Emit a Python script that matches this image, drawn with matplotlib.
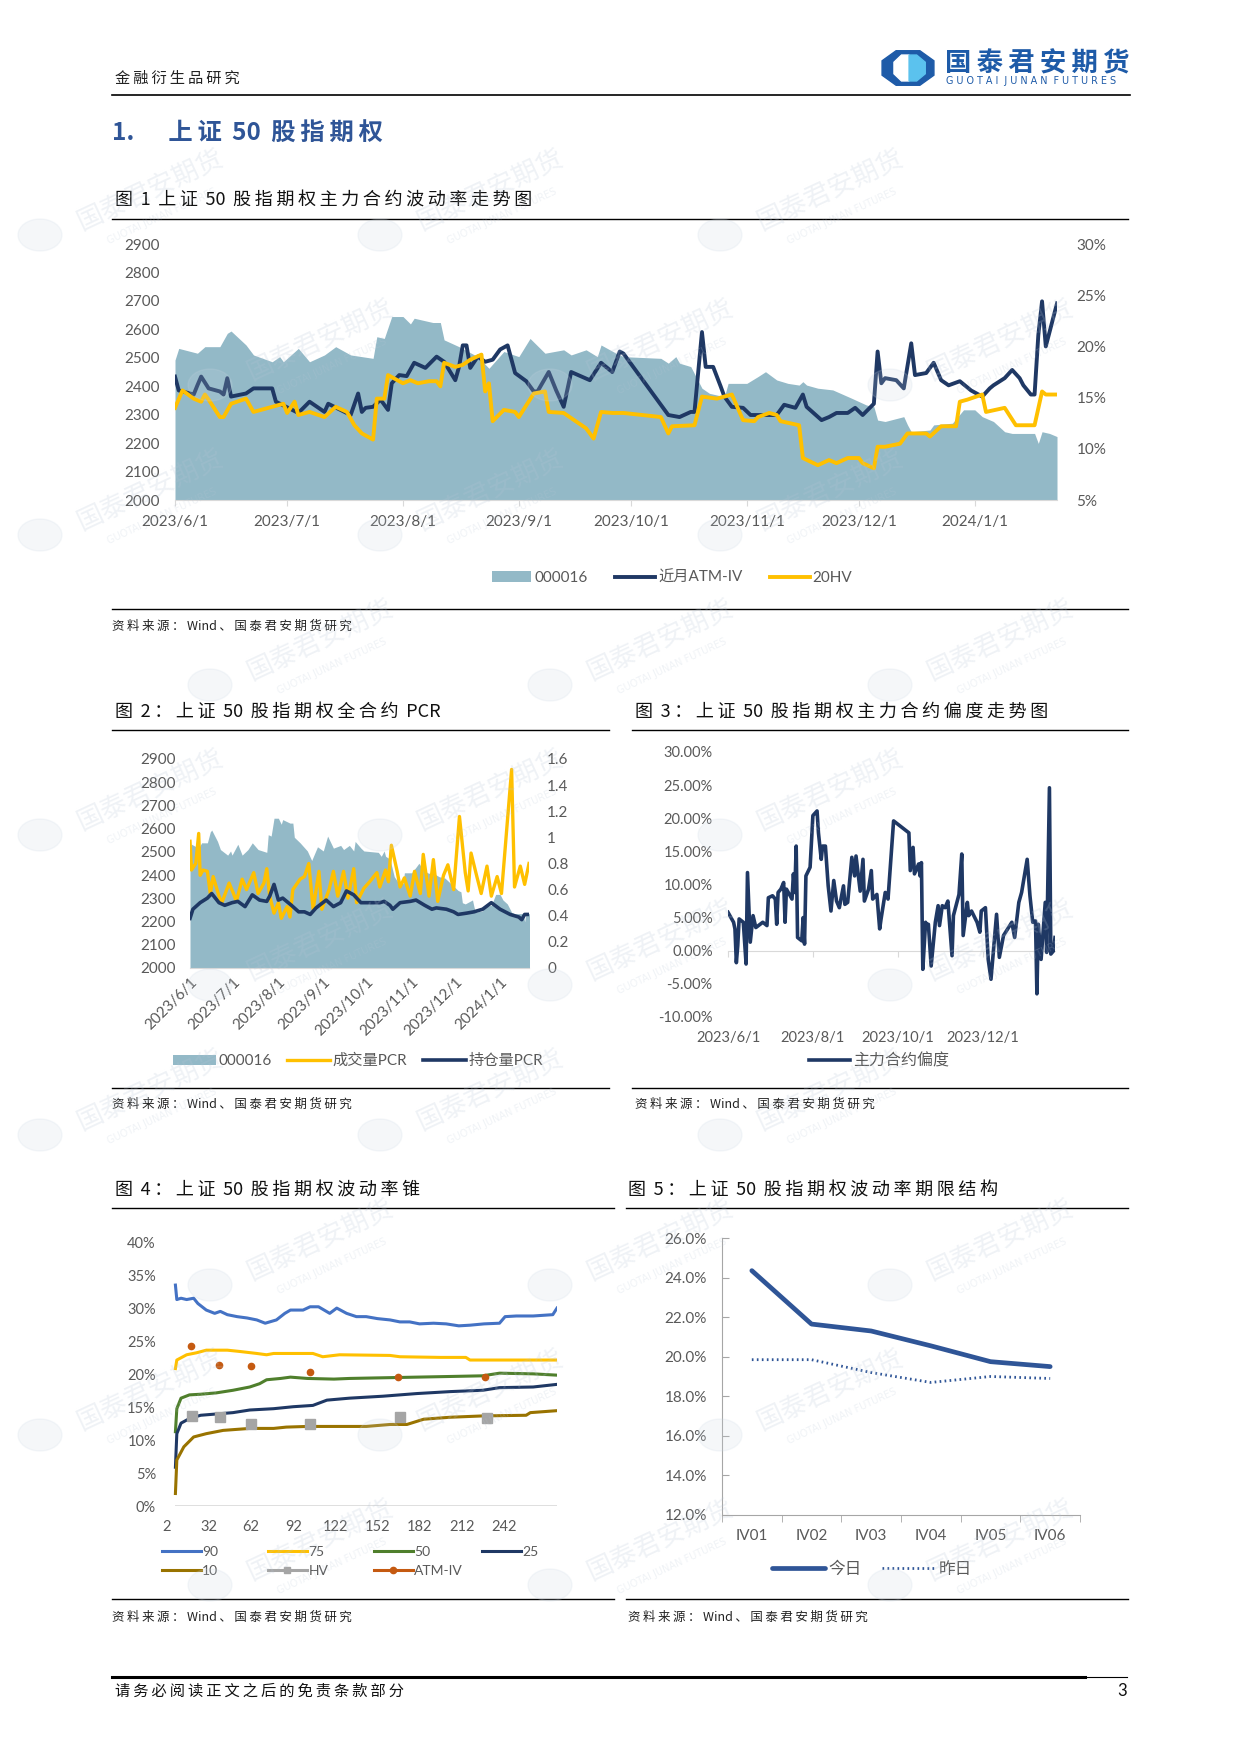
import numpy as np
import pandas as pd
import matplotlib
matplotlib.use('Agg')
import matplotlib.pyplot as plt
import matplotlib.ticker as mticker
from matplotlib.lines import Line2D
from matplotlib.patches import Polygon, Ellipse

plt.rcParams['font.family'] = ['Lato', 'Noto Sans CJK SC', 'DejaVu Sans']
plt.rcParams['axes.unicode_minus'] = False
CJK = ['Noto Sans CJK SC', 'DejaVu Sans']

W, H = 1240, 1754

# ---------------- data (days counted from 2023/6/1) ----------------
# fig 1 / fig 2 : SSE 50 index (000016)
idx_day = [0, 1, 6, 8, 12, 14, 15, 19, 21, 26, 28, 29, 33, 36, 40, 43, 47, 53, 54, 56,
           58, 61, 63, 64, 69, 71, 72, 76, 81, 84, 88, 92, 95, 99, 104, 106, 110, 113, 114, 118,
           120, 130, 132, 134, 135, 138, 141, 143, 147, 148, 153, 156, 158, 161, 164, 167, 168, 169, 172, 176,
           181, 185, 187, 188, 190, 195, 196, 197, 202, 203, 208, 211, 214, 216, 219, 222, 224, 230, 231, 232,
           234, 236]
idx_val = [2492, 2533, 2516, 2539, 2539, 2586, 2594, 2545, 2510, 2486, 2504, 2486, 2533, 2486, 2510, 2539, 2510, 2498, 2574, 2568,
           2645, 2645, 2619, 2639, 2624, 2624, 2563, 2539, 2504, 2463, 2522, 2504, 2568, 2516, 2528, 2510, 2528, 2504, 2545, 2516,
           2504, 2498, 2481, 2504, 2481, 2469, 2393, 2375, 2363, 2410, 2410, 2434, 2451, 2422, 2410, 2404, 2416, 2404, 2393, 2387,
           2358, 2334, 2328, 2281, 2276, 2293, 2264, 2240, 2246, 2264, 2270, 2317, 2317, 2293, 2276, 2240, 2234, 2234, 2199, 2240,
           2234, 2223]

# fig 1 : near-month ATM implied vol (%)
iv_day = [0, 1, 5, 6, 7, 9, 12, 13, 14, 15, 19, 21, 26, 27, 33, 36, 40, 41, 47, 49,
          50, 51, 53, 55, 57, 58, 60, 62, 64, 67, 70, 72, 75, 76, 77, 78, 79, 81, 83, 85,
          87, 89, 91, 94, 96, 97, 100, 102, 104, 106, 111, 114, 117, 119, 120, 132, 135, 138, 139, 141,
          142, 144, 146, 147, 149, 152, 154, 157, 161, 163, 166, 168, 169, 173, 175, 177, 180, 182, 184, 187,
          188, 189, 190, 193, 195, 197, 198, 201, 203, 205, 207, 210, 213, 216, 218, 219, 222, 224, 226, 227,
          229, 230, 231, 232, 233, 236]
iv_val = [17.05, 15.7, 15.3, 16.2, 17.05, 15.9, 15.6, 15.3, 16.9, 15.1, 15.4, 15.9, 15.9, 14.6, 13.5, 14.6, 13.6, 14.4, 13.3, 15.4,
          13.6, 14.0, 14.1, 14.8, 13.8, 16.4, 17.2, 17.1, 18.4, 17.9, 19.0, 18.5, 16.7, 18.0, 20.1, 20.1, 17.9, 19.0, 18.5, 18.7,
          19.7, 20.1, 17.4, 16.6, 15.6, 15.6, 17.5, 15.7, 14.1, 17.5, 16.7, 18.4, 17.5, 19.5, 19.3, 13.3, 13.1, 13.6, 13.6, 21.4,
          18.0, 18.0, 16.1, 15.1, 14.1, 14.0, 13.3, 13.3, 13.3, 14.3, 14.0, 15.3, 14.1, 12.8, 13.1, 13.5, 13.5, 14.0, 13.3, 14.4,
          19.5, 16.4, 16.9, 16.7, 15.9, 20.3, 17.2, 17.4, 18.4, 16.7, 16.2, 16.6, 15.7, 15.1, 15.9, 16.2, 16.9, 17.7, 16.9, 16.2,
          15.3, 15.3, 21.1, 24.4, 20.0, 24.2]

# fig 1 : 20-day historical vol (%)
hv_day = [0, 2, 5, 7, 8, 9, 12, 13, 15, 19, 21, 26, 29, 30, 32, 33, 36, 40, 43, 46,
          48, 50, 53, 54, 56, 57, 61, 63, 65, 68, 70, 71, 72, 75, 77, 79, 82, 83, 84, 85,
          88, 91, 92, 96, 99, 100, 104, 110, 112, 114, 117, 120, 130, 132, 133, 139, 141, 145, 149, 152,
          155, 156, 159, 161, 162, 167, 168, 172, 175, 177, 180, 183, 184, 187, 188, 190, 194, 196, 201, 202,
          205, 209, 210, 212, 216, 217, 222, 225, 230, 232, 233, 236]
hv_val = [14.0, 15.7, 14.9, 14.6, 15.3, 14.8, 13.1, 13.1, 14.4, 14.9, 13.6, 14.1, 14.4, 13.5, 14.6, 13.3, 13.6, 13.1, 14.1, 13.6,
          12.3, 11.5, 10.9, 14.9, 14.9, 17.2, 16.4, 16.7, 16.4, 16.6, 16.6, 16.1, 18.4, 18.0, 18.2, 18.7, 19.2, 15.6, 16.4, 12.7,
          13.8, 13.6, 13.1, 15.4, 15.6, 13.6, 13.5, 12.0, 11.0, 13.6, 13.5, 13.5, 13.1, 11.5, 12.2, 12.3, 15.1, 14.9, 15.3, 12.8,
          12.7, 13.1, 13.5, 13.3, 12.7, 12.3, 9.1, 8.4, 8.9, 8.6, 9.1, 9.1, 8.6, 8.1, 10.2, 10.2, 10.5, 11.5, 11.5, 11.2,
          12.2, 12.2, 14.6, 14.8, 15.3, 13.6, 14.0, 12.3, 12.3, 15.6, 15.3, 15.3]

# fig 2 : PCR
vol_pcr_day = [0, 1, 4, 6, 7, 9, 12, 14, 16, 20, 22, 27, 30, 32, 36, 39, 44, 47, 51, 53,
               55, 58, 61, 63, 67, 69, 71, 76, 79, 82, 85, 89, 91, 96, 99, 102, 106, 109, 113, 115,
               120, 124, 129, 131, 135, 137, 139, 143, 145, 148, 152, 155, 159, 161, 165, 168, 171, 175, 178, 182,
               186, 190, 192, 194, 198, 201, 205, 208, 212, 215, 222, 224, 228, 231, 234]
vol_pcr = [0.97, 0.75, 0.80, 1.03, 0.71, 0.75, 0.74, 0.57, 0.70, 0.55, 0.50, 0.65, 0.57, 0.51, 0.68, 0.60, 0.73, 0.57, 0.65, 0.76,
           0.55, 0.42, 0.50, 0.38, 0.47, 0.39, 0.60, 0.68, 0.70, 0.80, 0.45, 0.74, 0.45, 0.60, 0.74, 0.55, 0.74, 0.535, 0.76, 0.50,
           0.61, 0.66, 0.73, 0.62, 0.75, 0.66, 0.94, 0.74, 0.62, 0.69, 0.55, 0.74, 0.57, 0.87, 0.55, 0.83, 0.51, 0.71, 0.79, 0.60,
           1.16, 0.73, 0.59, 0.88, 0.70, 0.57, 0.78, 0.55, 0.70, 0.57, 1.52, 0.62, 0.78, 0.64, 0.80]
oi_pcr_day = [0, 2, 7, 12, 15, 20, 24, 29, 33, 38, 43, 48, 53, 55, 58, 61, 64, 70, 75, 79,
              83, 87, 94, 99, 104, 108, 113, 118, 124, 131, 134, 138, 140, 145, 152, 156, 162, 167, 170, 177,
              182, 185, 191, 196, 202, 208, 214, 221, 227, 229, 231, 234]
oi_pcr = [0.38, 0.45, 0.50, 0.535, 0.57, 0.50, 0.48, 0.50, 0.51, 0.47, 0.56, 0.52, 0.51, 0.55, 0.64, 0.52, 0.535, 0.48, 0.43, 0.43,
          0.41, 0.46, 0.52, 0.47, 0.50, 0.59, 0.56, 0.50, 0.50, 0.50, 0.51, 0.48, 0.45, 0.50, 0.51, 0.52, 0.48, 0.45, 0.46, 0.45,
          0.43, 0.41, 0.42, 0.43, 0.45, 0.50, 0.45, 0.41, 0.39, 0.37, 0.41, 0.41]

# fig 3 : main contract skew (%)
skew_day = [0, 4, 5, 6, 7, 8, 11, 13, 14, 16, 18, 20, 25, 28, 29, 32, 34, 35, 36, 38,
            40, 41, 42, 46, 47, 48, 49, 50, 53, 54, 55, 56, 59, 61, 64, 65, 67, 68, 70, 72,
            74, 76, 78, 80, 83, 84, 86, 89, 91, 92, 95, 97, 98, 101, 103, 104, 107, 109, 110, 113,
            115, 119, 130, 131, 133, 134, 137, 138, 139, 140, 142, 143, 144, 146, 149, 151, 152, 154, 156, 158,
            161, 162, 166, 168, 169, 172, 173, 175, 179, 181, 182, 185, 187, 189, 193, 195, 198, 201, 204, 206,
            209, 211, 215, 217, 219, 221, 222, 223, 225, 228, 229, 231, 232, 234, 235]
skew_val = [5.8, 4.3, 3.3, -1.8, 0.75, 4.8, 4.3, -2.0, 11.8, 1.3, 5.3, 3.5, 4.3, 3.8, 8.0, 8.3, 7.8, 4.0, 8.8, 9.3,
            10.3, 4.3, 9.3, 7.8, 11.6, 8.8, 15.8, 2.0, 1.5, 5.0, 1.0, 11.3, 12.6, 20.4, 21.1, 17.8, 13.8, 15.8, 15.8, 9.8,
            6.0, 10.6, 7.5, 6.5, 9.8, 7.0, 7.3, 14.1, 11.3, 14.3, 9.0, 13.8, 7.5, 9.3, 12.1, 7.8, 8.5, 3.3, 4.8, 8.8,
            7.8, 19.6, 17.8, 12.1, 15.6, 11.6, 13.1, 11.3, 13.3, -2.8, 4.3, 3.5, 4.0, -2.3, 4.3, 6.8, 3.8, 6.8, 6.5, 7.5,
            -0.75, 5.3, 8.5, 14.6, 2.3, 7.3, 5.3, 6.0, 4.3, 2.8, 6.0, 6.5, -1.3, -4.3, 5.5, -1.0, 2.3, 3.3, 4.3, 2.0,
            7.3, 8.8, 13.8, 8.3, 4.3, 4.5, -6.5, 4.0, -1.3, 7.3, -0.25, 24.6, -0.5, 0.0, 2.0]

# fig 4 : volatility cone (days to expiry -> percentile vol, %)
p90_x = [8, 9, 12, 16, 21, 24, 30, 36, 40, 45, 52, 59, 66, 72, 80, 86, 90, 99, 104, 110,
         118, 123, 130, 137, 144, 152, 161, 168, 175, 182, 192, 201, 210, 218, 228, 239, 243, 251, 263, 277, 280]
p90 = [33.6, 31.4, 31.6, 31.4, 31.6, 30.8, 29.8, 29.3, 29.6, 29.1, 28.8, 28.6, 28.3, 27.8, 28.3, 29.3, 29.8, 29.8, 30.3, 30.3,
       29.3, 30.1, 29.3, 28.8, 28.8, 28.5, 28.3, 28.0, 28.0, 27.7, 27.8, 27.7, 27.4, 27.5, 27.7, 27.8, 28.8, 28.9, 28.9, 29.1, 30.1]
p75_x = [8, 9, 16, 23, 30, 45, 54, 66, 73, 78, 106, 113, 125, 161, 168, 197, 215, 218, 280]
p75 = [20.9, 22.2, 23.0, 23.3, 23.7, 23.7, 23.5, 23.2, 23.0, 23.2, 23.2, 22.7, 23.0, 22.9, 22.7, 22.6, 22.6, 22.2, 22.2]
p50_x = [8, 9, 12, 18, 26, 37, 49, 61, 68, 73, 83, 90, 102, 121, 132, 156, 204, 227, 239, 263, 280]
p50 = [11.3, 14.8, 16.4, 16.9, 17.0, 17.2, 17.6, 18.1, 18.6, 19.2, 19.4, 19.6, 19.4, 19.3, 19.4, 19.5, 19.7, 19.8, 20.2, 20.1, 19.9]
p25_x = [8, 9, 12, 18, 26, 49, 61, 78, 92, 106, 116, 132, 156, 180, 204, 227, 239, 263, 280]
p25 = [5.9, 11.0, 12.6, 13.3, 13.8, 14.2, 14.6, 14.8, 15.1, 15.3, 16.1, 16.4, 16.7, 17.1, 17.4, 17.6, 18.0, 18.1, 18.5]
p10_x = [8, 9, 14, 21, 30, 42, 61, 78, 87, 102, 144, 161, 173, 185, 204, 227, 258, 261, 280]
p10 = [1.9, 7.0, 9.0, 10.5, 11.0, 11.5, 11.8, 11.8, 12.0, 12.1, 12.1, 12.4, 12.4, 13.2, 13.5, 13.7, 13.8, 14.2, 14.5]
hv_pt_x = [20, 40, 62, 104, 168, 230]
hv_pt = [13.7, 13.6, 12.4, 12.4, 13.6, 13.4]
atm_pt_x = [19, 39, 62, 104, 167, 229]
atm_pt = [24.4, 21.5, 21.3, 20.4, 19.6, 19.6]
cone_ticks = [2, 32, 62, 92, 122, 152, 182, 212, 242]

# fig 5 : term structure
term_labels = ['IV01', 'IV02', 'IV03', 'IV04', 'IV05', 'IV06']
term_today = [24.35, 21.65, 21.3, 20.55, 19.75, 19.5]
term_yday = [19.85, 19.85, 19.2, 18.7, 19.0, 18.9]

# ---------------- style ----------------
FILL = '#93B9C7'
NAVY = '#1F3864'
GOLD = '#FFC000'
AXC = '#D9D9D9'
TXT = '#595959'

START = pd.Timestamp('2023-06-01')
months = pd.date_range('2023-06-01', '2024-01-01', freq='MS')
month_days = list((months - START).days)
month_labels = [f'{d.year}/{d.month}/{d.day}' for d in months]


def box(l, t, r, b):
    return [l / W, 1 - b / H, (r - l) / W, (b - t) / H]


def spaced(s, sp='\u2009'):
    # song-style page text is letter-spaced around the CJK glyphs
    out = s[0]
    for a, b in zip(s, s[1:]):
        if ord(a) > 127 or ord(b) > 127:
            out += sp
        out += b
    return out


def ftext(x, y, s, **kw):
    kw.setdefault('va', 'center')
    return fig.text(x / W, 1 - y / H, s, **kw)


def hline(x0, x1, y, lw=1.0, color='black'):
    fig.add_artist(Line2D([x0 / W, x1 / W], [1 - y / H, 1 - y / H], color=color, lw=lw))


def clean(ax, keep=()):
    for k, s in ax.spines.items():
        s.set_visible(k in keep)


def title(x, y, s):
    ftext(x, y, spaced(s), family=CJK, fontsize=13, color='#111111')


def source(x, y):
    ftext(x, y, spaced('资料来源：Wind、国泰君安期货研究'), family=CJK, fontsize=9, color='#222222')


fig = plt.figure(figsize=(W / 100, H / 100), dpi=100)

# ---------------- faint watermark ----------------
for r, wy in enumerate(range(190, 1640, 150)):
    for wx in range(150 + (r % 2) * 170, 1120, 340):
        ftext(wx, wy, '国泰君安期货', family=CJK, fontsize=19, rotation=25, color='#B8C6D6',
              alpha=0.22, ha='center', zorder=50)
        ftext(wx + 12, wy + 26, 'GUOTAI JUNAN FUTURES', family=['DejaVu Sans'], fontsize=7, rotation=25,
              color='#B8C6D6', alpha=0.22, ha='center', zorder=50)
        fig.add_artist(Ellipse(((wx - 110) / W, 1 - (wy + 45) / H), 44 / W, 32 / H, color='#C9D6E3',
                               alpha=0.18, zorder=50))

# ---------------- page header ----------------
ftext(115, 78, spaced('金融衍生品研究'), family=CJK, fontsize=11, color='#222222')
hline(112, 1130, 95, lw=1.2)
lax = fig.add_axes(box(881, 50, 935, 86))
lax.set_xlim(0, 1)
lax.set_ylim(0, 1)
lax.axis('off')
lax.add_patch(Polygon([(0.28, 0.02), (0.72, 0.02), (0.98, 0.3), (0.98, 0.7), (0.72, 0.98), (0.28, 0.98),
                       (0.02, 0.7), (0.02, 0.3)], closed=True, color='#1E5BA8'))
lax.add_patch(Polygon([(0.38, 0.14), (0.52, 0.14), (0.52, 0.86), (0.38, 0.86), (0.24, 0.66), (0.24, 0.34)],
                      closed=True, color='white'))
lax.add_patch(Polygon([(0.52, 0.14), (0.66, 0.14), (0.82, 0.34), (0.82, 0.66), (0.66, 0.86), (0.52, 0.86)],
                      closed=True, color='#5BC2EE'))
ftext(945, 64, spaced('国泰君安期货'), family=CJK, fontsize=19, fontweight='bold', color='#1E5BA8')
ftext(946, 81, ' '.join('GUOTAI JUNAN FUTURES').replace('   ', '  '), family=['DejaVu Sans'],
      fontsize=6.9, color='#1E5BA8')

ftext(112, 134, spaced('1.\u2003上证 50 股指期权'), family=CJK, fontsize=17.5,
      fontweight='bold', color='#2F5597')

# ---------------- fig 1 ----------------
title(115, 201, '图 1 上证 50 股指期权主力合约波动率走势图')
hline(112, 1128, 219)

ax1 = fig.add_axes(box(175, 244, 1057, 500))
fill1 = ax1.fill_between(idx_day, idx_val, 2000, color=FILL, lw=0, label='000016')
ax1.set_xlim(0, 236)
ax1.set_ylim(2000, 2900)
ax1.set_yticks(range(2000, 3000, 100))
ax1.set_xticks(month_days)
ax1.set_xticklabels(month_labels)
clean(ax1, keep=('bottom',))
ax1.spines['bottom'].set_color(AXC)
ax1.tick_params(axis='y', length=0, pad=11, labelsize=11, labelcolor=TXT)
ax1.tick_params(axis='x', length=4, color=AXC, pad=7, labelsize=11, labelcolor=TXT)
ax1r = ax1.twinx()
l_iv, = ax1r.plot(iv_day, iv_val, color=NAVY, lw=2.8, label='近月ATM-IV')
l_hv, = ax1r.plot(hv_day, hv_val, color=GOLD, lw=2.8, label='20HV')
ax1r.set_ylim(5, 30)
ax1r.set_yticks(range(5, 35, 5))
ax1r.yaxis.set_major_formatter(mticker.FormatStrFormatter('%d%%'))
clean(ax1r)
ax1r.tick_params(axis='y', length=0, pad=14, labelsize=11, labelcolor=TXT)
fig.legend(handles=[fill1, l_iv, l_hv], loc='center', bbox_to_anchor=(672 / W, 1 - 578 / H),
           ncol=3, frameon=False, fontsize=11, handlelength=2.6, handletextpad=0.2,
           columnspacing=1.8, labelcolor=TXT)
hline(112, 1128, 609)
source(112, 626)

# ---------------- fig 2 ----------------
title(115, 712, '图 2：上证 50 股指期权全合约 PCR')
hline(112, 609, 730)
ax2 = fig.add_axes(box(190, 759, 529, 968))
fill2 = ax2.fill_between(idx_day, idx_val, 2000, color=FILL, lw=0, label='000016')
ax2.set_xlim(0, 234)
ax2.set_ylim(2000, 2900)
ax2.set_yticks(range(2000, 3000, 100))
ax2.set_xticks(month_days)
ax2.set_xticklabels(month_labels, rotation=45, ha='right', rotation_mode='anchor')
clean(ax2, keep=('bottom',))
ax2.spines['bottom'].set_color(AXC)
ax2.tick_params(axis='y', length=0, pad=10, labelsize=11, labelcolor=TXT)
ax2.tick_params(axis='x', length=0, pad=5, labelsize=11, labelcolor=TXT)
ax2r = ax2.twinx()
l_vp, = ax2r.plot(vol_pcr_day, vol_pcr, color=GOLD, lw=2.4, label='成交量PCR')
l_op, = ax2r.plot(oi_pcr_day, oi_pcr, color=NAVY, lw=2.6, label='持仓量PCR')
ax2r.set_ylim(0, 1.6)
ax2r.set_yticks(np.arange(0, 1.61, 0.2))
ax2r.yaxis.set_major_formatter(mticker.FuncFormatter(lambda v, p: f'{v:g}'))
clean(ax2r)
ax2r.tick_params(axis='y', length=0, pad=13, labelsize=11, labelcolor=TXT)
fig.legend(handles=[fill2, l_vp, l_op], loc='center', bbox_to_anchor=(358 / W, 1 - 1061 / H),
           ncol=3, frameon=False, fontsize=11, handlelength=2.8, handletextpad=0.2,
           columnspacing=1.0, labelcolor=TXT)
hline(112, 609, 1088)
source(112, 1104)

# ---------------- fig 3 ----------------
title(635, 712, '图 3：上证 50 股指期权主力合约偏度走势图')
hline(632, 1128, 730)
ax3 = fig.add_axes(box(728, 752, 1055, 1017))
l_sk, = ax3.plot(skew_day, skew_val, color=NAVY, lw=2.6, label='主力合约偏度')
ax3.set_xlim(0, 235)
ax3.set_ylim(-10, 30)
ax3.set_yticks(range(-10, 35, 5))
ax3.yaxis.set_major_formatter(mticker.FormatStrFormatter('%.2f%%'))
ax3.set_xticks(month_days[0:7:2])
ax3.set_xticklabels(month_labels[0:7:2])
clean(ax3, keep=('bottom',))
ax3.spines['bottom'].set_position(('data', 0))
ax3.spines['bottom'].set_color(AXC)
ax3.spines['bottom'].set_zorder(0)
ax3.tick_params(axis='y', length=0, pad=11, labelsize=10.5, labelcolor=TXT)
ax3.tick_params(axis='x', length=4, color=AXC, pad=54, labelsize=10.5, labelcolor=TXT)
fig.legend(handles=[l_sk], loc='center', bbox_to_anchor=(879 / W, 1 - 1061 / H),
           frameon=False, fontsize=11.5, handlelength=2.6, handletextpad=0.2, labelcolor=TXT)
hline(632, 1128, 1088)
source(635, 1104)

# ---------------- fig 4 ----------------
title(115, 1191, '图 4：上证 50 股指期权波动率锥')
hline(112, 614, 1208)
ax4 = fig.add_axes(box(167, 1243, 557, 1506))
c90, = ax4.plot(p90_x, p90, color='#4472C4', lw=2.2, label='90')
c75, = ax4.plot(p75_x, p75, color=GOLD, lw=2.2, label='75')
c50, = ax4.plot(p50_x, p50, color='#4F7F2C', lw=2.2, label='50')
c25, = ax4.plot(p25_x, p25, color=NAVY, lw=2.2, label='25')
c10, = ax4.plot(p10_x, p10, color='#997300', lw=2.2, label='10')
ax4.plot(hv_pt_x, hv_pt, ls='none', marker='s', ms=6.5, color='#A5A5A5')
ax4.plot(atm_pt_x, atm_pt, ls='none', marker='o', ms=4.5, color='#C55A11')
ax4.hlines(0, p90_x[0], p90_x[-1], color=AXC, lw=1.2, zorder=0)
ax4.set_xlim(2, 280)
ax4.set_ylim(0, 40)
ax4.set_yticks(range(0, 45, 5))
ax4.yaxis.set_major_formatter(mticker.FormatStrFormatter('%d%%'))
ax4.set_xticks(cone_ticks)
clean(ax4)
ax4.tick_params(axis='y', length=0, pad=8, labelsize=10.5, labelcolor=TXT)
ax4.tick_params(axis='x', length=0, pad=10, labelsize=10.5, labelcolor=TXT)
h_hv = Line2D([], [], color='#A5A5A5', lw=2.2, marker='s', ms=5)
h_atm = Line2D([], [], color='#C55A11', lw=2.2, marker='o', ms=4.5)
cone_cols = [([c90, c10], ['90', '10'], 162), ([c75, h_hv], ['75', 'HV'], 268),
             ([c50, h_atm], ['50', 'ATM-IV'], 374), ([c25], ['25'], 482)]
for hs, ls_, x0 in cone_cols:
    fig.legend(handles=hs, labels=ls_, loc='upper left', bbox_to_anchor=(x0 / W, 1 - 1546 / H),
               frameon=False, fontsize=10, handlelength=2.8, handletextpad=0.1,
               borderpad=0, borderaxespad=0, labelspacing=0.5, labelcolor=TXT)
hline(112, 614, 1599)
source(112, 1617)

# ---------------- fig 5 ----------------
title(628, 1191, '图 5：上证 50 股指期权波动率期限结构')
hline(626, 1128, 1208)
ax5 = fig.add_axes(box(722, 1238, 1080, 1515))
xs = np.arange(len(term_labels))
t_today, = ax5.plot(xs, term_today, color='#2F5597', lw=3.4, solid_capstyle='round', label='今日')
t_yday, = ax5.plot(xs, term_yday, color='#2F5597', lw=2.0, ls=(0, (0.6, 1.2)), label='昨日')
ax5.set_xlim(-0.5, 5.5)
ax5.set_ylim(12, 26)
ax5.set_yticks(range(12, 27, 2))
ax5.yaxis.set_major_formatter(mticker.FormatStrFormatter('%.1f%%'))
ax5.set_xticks(xs)
ax5.set_xticklabels(term_labels)
ax5.set_xticks(np.arange(-0.5, 5.6, 1), minor=True)
clean(ax5, keep=('left', 'bottom'))
for s in ('left', 'bottom'):
    ax5.spines[s].set_color('#A6A6A6')
ax5.tick_params(axis='y', direction='in', length=5, color='#A6A6A6', pad=11, labelsize=11, labelcolor=TXT)
ax5.tick_params(axis='x', which='major', length=0, pad=10, labelsize=11, labelcolor=TXT)
ax5.tick_params(axis='x', which='minor', direction='out', length=5, color='#A6A6A6')
fig.legend(handles=[t_today, t_yday], loc='center', bbox_to_anchor=(872 / W, 1 - 1569 / H),
           ncol=2, frameon=False, fontsize=12, handlelength=3.2, handletextpad=0.2,
           columnspacing=1.2, labelcolor=TXT)
hline(626, 1128, 1599)
source(628, 1617)

# ---------------- footer ----------------
hline(112, 1085, 1677, lw=2.2)
hline(1085, 1127, 1677, lw=0.8)
ftext(115, 1691, spaced('请务必阅读正文之后的免责条款部分'), family=CJK, fontsize=11,
      color='#111111')
ftext(1127, 1691, '3', fontsize=12, ha='right', color='#111111')

fig.savefig('out.png', dpi=100)
